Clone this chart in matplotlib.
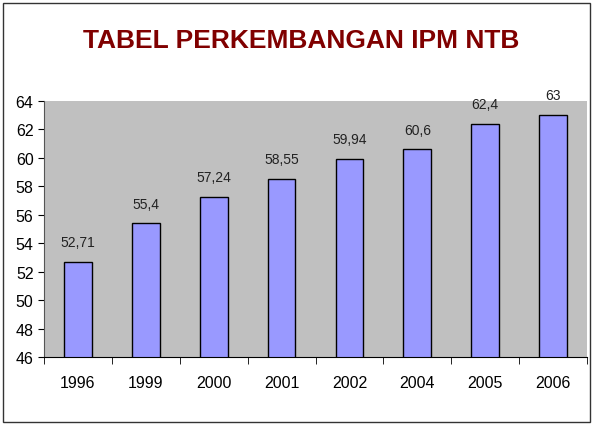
import matplotlib.pyplot as plt
from matplotlib.patches import Rectangle
import numpy as np

years = ['1996', '1999', '2000', '2001', '2002', '2004', '2005', '2006']
ipm = [52.71, 55.4, 57.24, 58.55, 59.94, 60.6, 62.4, 63]
labels = ['52,71', '55,4', '57,24', '58,55', '59,94', '60,6', '62,4', '63']

plt.rcParams['font.family'] = ['Liberation Sans Narrow', 'Liberation Sans', 'DejaVu Sans']

fig = plt.figure(figsize=(6.03, 4.35), dpi=100)
fig.patches.append(Rectangle((0.005, 0.028), 0.974, 0.962, transform=fig.transFigure,
                             fill=False, edgecolor='#333333', linewidth=1))

ax = fig.add_axes([44 / 603, 1 - 358 / 435, (587 - 44) / 603, (358 - 102) / 435])
ax.set_facecolor('#C0C0C0')

x = np.arange(len(years))
ax.bar(x, ipm, width=0.41, bottom=0, color='#9999FF', edgecolor='black', linewidth=1, zorder=2)
for xi, v, t in zip(x, ipm, labels):
    ax.text(xi, v + 0.9, t, ha='center', va='bottom', fontsize=10, color='#222222', zorder=3)

ax.set_ylim(46, 64)
ax.set_yticks(range(46, 65, 2))
ax.set_xlim(-0.5, len(years) - 0.5)
ax.set_xticks(x)
ax.set_xticklabels(years)
ax.set_xticks(np.arange(-0.5, len(years), 1), minor=True)
ax.tick_params(axis='x', which='major', length=0, pad=13, labelsize=11.5)
ax.tick_params(axis='x', which='minor', length=5, direction='out')
ax.tick_params(axis='y', length=4, direction='out', labelsize=11.5)
for s in ['top', 'right']:
    ax.spines[s].set_visible(False)
ax.spines['left'].set_color('#555555')
ax.spines['bottom'].set_color('black')

fig.text(0.5, 0.906, 'TABEL PERKEMBANGAN IPM NTB', ha='center', va='center',
         fontsize=19, fontweight='bold', color='#800000')

fig.savefig('out.png', dpi=100)
